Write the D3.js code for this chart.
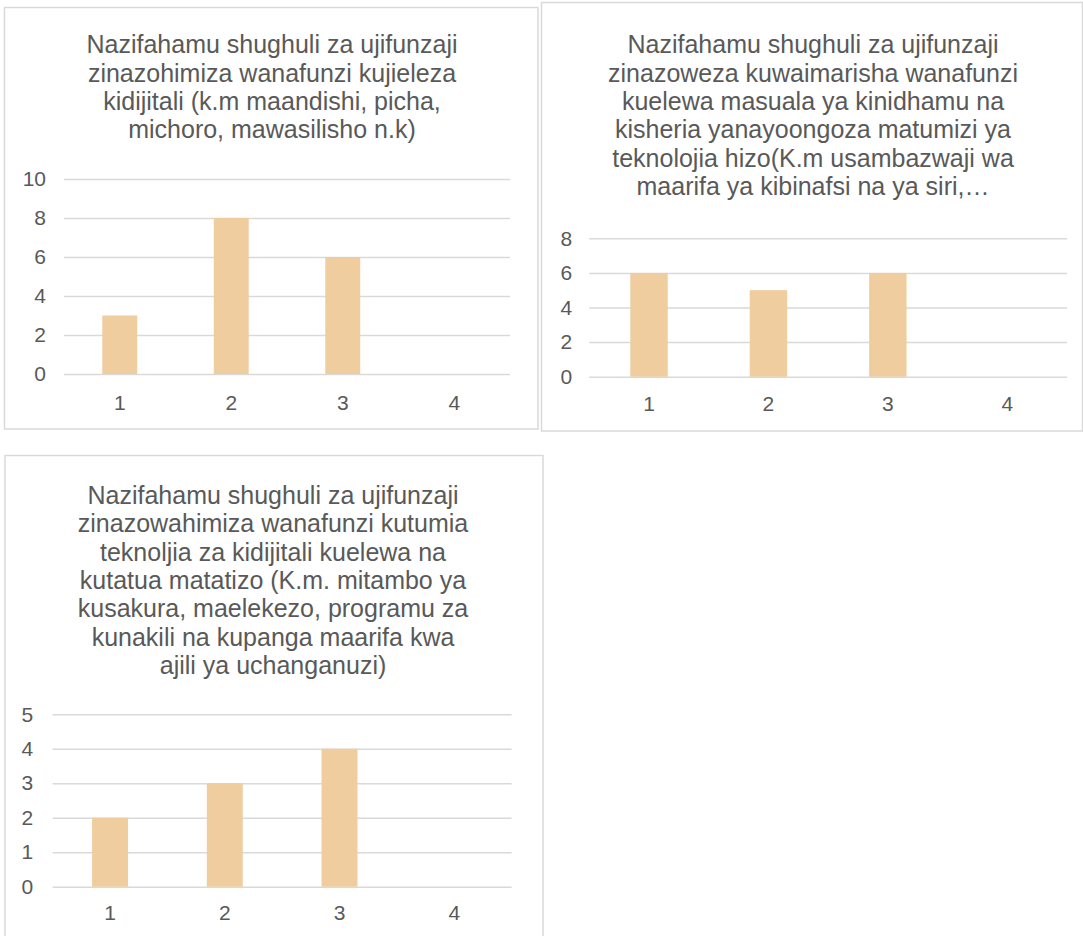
<!DOCTYPE html>
<html>
<head>
<meta charset="utf-8">
<script src="https://cdn.jsdelivr.net/npm/d3@7"></script>
<style>
  html, body { margin: 0; padding: 0; background: #ffffff; }
  svg { display: block; }
  text { font-family: "Liberation Sans", Arial, sans-serif; fill: #595959; }
</style>
</head>
<body>
<svg id="chart" width="1083" height="936"></svg>
<script>
// Response categories shared by all three survey questions
const categories = ["1", "2", "3", "4"];

// Counts per category for each question
const valuesDigitalExpression = [3, 8, 6, 0];
const valuesLegalEthical = [6, 5, 6, 0];
const valuesProblemSolving = [2, 3, 4, 0];

// Value-axis tick labels
const ticksDigitalExpression = [0, 2, 4, 6, 8, 10];
const ticksLegalEthical = [0, 2, 4, 6, 8];
const ticksProblemSolving = [0, 1, 2, 3, 4, 5];

// Chart titles, one entry per wrapped line
const titleDigitalExpression = [
  "Nazifahamu shughuli za ujifunzaji",
  "zinazohimiza wanafunzi kujieleza",
  "kidijitali (k.m maandishi, picha,",
  "michoro, mawasilisho n.k)"
];
const titleLegalEthical = [
  "Nazifahamu shughuli za ujifunzaji",
  "zinazoweza kuwaimarisha wanafunzi",
  "kuelewa masuala ya kinidhamu na",
  "kisheria yanayoongoza matumizi ya",
  "teknolojia hizo(K.m usambazwaji wa",
  "maarifa ya kibinafsi na ya siri,\u2026"
];
const titleProblemSolving = [
  "Nazifahamu shughuli za ujifunzaji",
  "zinazowahimiza wanafunzi kutumia",
  "teknoljia za kidijitali kuelewa na",
  "kutatua matatizo (K.m. mitambo ya",
  "kusakura, maelekezo, programu za",
  "kunakili na kupanga maarifa kwa",
  "ajili ya uchanganuzi)"
];

const BAR_COLOR = "#f0cd9f";
const GRID_COLOR = "#d9d9d9";
const GAP_WIDTH = 2.19; // space between bars relative to bar width

const svg = d3.select("#chart");

const panels = [
  {
    values: valuesDigitalExpression, ticks: ticksDigitalExpression, title: titleDigitalExpression,
    box: { x: 4.5, y: 7.5, w: 533.5, h: 421.5 },
    titleX: 272, titleY: 53.3,
    plot: { x0: 64, x1: 510, y0: 374, y1: 179 },
    tickPad: 18, catPad: 20.6
  },
  {
    values: valuesLegalEthical, ticks: ticksLegalEthical, title: titleLegalEthical,
    box: { x: 541.5, y: 2.5, w: 541, h: 428.5 },
    titleX: 813, titleY: 53.3,
    plot: { x0: 589.3, x1: 1067, y0: 376.7, y1: 238.3 },
    tickPad: 17, catPad: 19.2
  },
  {
    values: valuesProblemSolving, ticks: ticksProblemSolving, title: titleProblemSolving,
    box: { x: 5, y: 455.5, w: 538, h: 490 },
    titleX: 273, titleY: 504,
    plot: { x0: 52.7, x1: 511.6, y0: 886.7, y1: 714.3 },
    tickPad: 19.5, catPad: 18.6
  }
];

panels.forEach(p => {
  const g = svg.append("g");

  // Chart area frame
  g.append("rect")
    .attr("x", p.box.x).attr("y", p.box.y)
    .attr("width", p.box.w).attr("height", p.box.h)
    .attr("fill", "#ffffff")
    .attr("stroke", GRID_COLOR)
    .attr("stroke-width", 1.5);

  // Wrapped, centred title
  const title = g.append("text")
    .attr("text-anchor", "middle")
    .style("font-size", "25px");
  p.title.forEach((line, i) => {
    title.append("tspan")
      .attr("x", p.titleX)
      .attr("y", p.titleY + i * 28.3)
      .text(line);
  });

  const plotW = p.plot.x1 - p.plot.x0;
  const yMax = p.ticks[p.ticks.length - 1];

  const y = d3.scaleLinear().domain([0, yMax]).range([p.plot.y0, p.plot.y1]);
  const xCat = d3.scaleBand().domain(categories).range([p.plot.x0, p.plot.x1]).padding(0);
  const inner = GAP_WIDTH / (1 + GAP_WIDTH);
  const xBar = d3.scaleBand().domain(categories).range([p.plot.x0, p.plot.x1])
    .paddingInner(inner).paddingOuter(inner / 2);

  // Horizontal gridlines with value labels
  const yAxis = g.append("g")
    .attr("transform", `translate(${p.plot.x0},0)`)
    .call(d3.axisLeft(y).tickValues(p.ticks).tickFormat(d3.format("d"))
      .tickSize(-plotW).tickPadding(p.tickPad));
  yAxis.attr("font-size", null).attr("font-family", null);
  yAxis.select(".domain").remove();
  yAxis.selectAll(".tick line").attr("stroke", GRID_COLOR).attr("stroke-width", 1.5);
  yAxis.selectAll(".tick text")
    .attr("fill", "#595959")
    .style("font-size", "21px");

  // Bars
  g.append("g").selectAll("rect")
    .data(categories.map((c, i) => ({ c, v: p.values[i] })))
    .join("rect")
    .attr("x", d => xBar(d.c))
    .attr("width", xBar.bandwidth())
    .attr("y", d => y(d.v))
    .attr("height", d => y(0) - y(d.v))
    .attr("fill", BAR_COLOR);

  // Category labels
  const xAxis = g.append("g")
    .attr("transform", `translate(0,${p.plot.y0})`)
    .call(d3.axisBottom(xCat).tickSize(0).tickPadding(p.catPad));
  xAxis.attr("font-size", null).attr("font-family", null);
  xAxis.select(".domain").remove();
  xAxis.selectAll(".tick text")
    .attr("fill", "#595959")
    .style("font-size", "21px");
});
</script>
</body>
</html>
